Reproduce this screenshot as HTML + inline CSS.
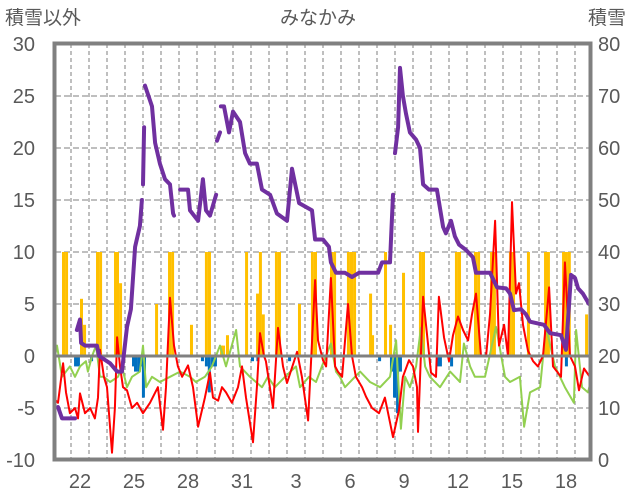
<!DOCTYPE html>
<html><head><meta charset="utf-8"><style>
html,body{margin:0;padding:0;background:#fff;}
svg{display:block;font-family:"Liberation Sans","Noto Sans CJK JP",sans-serif;}
</style></head><body>
<svg id="chart" width="636" height="501" viewBox="0 0 636 501">
<text x="5" y="24" font-size="19" fill="#595959">積雪以外</text>
<text x="318" y="24" font-size="19" fill="#595959" text-anchor="middle">みなかみ</text>
<text x="588" y="24" font-size="19" fill="#595959">積雪</text>
<defs><clipPath id="pc"><rect x="55" y="44" width="535" height="415"/></clipPath></defs>
<g id="grid"></g>
<g id="bars" clip-path="url(#pc)"></g>
<g id="lines" clip-path="url(#pc)"></g>
<g id="frame"></g>
<g id="ticks"></g>
</svg>
<script>
const xLabels=["22","25","28","31","3","6","9","12","15","18"];
const xLabelDays=[1.5,4.5,7.5,10.5,13.5,16.5,19.5,22.5,25.5,28.5];
const leftTicks=[-10,-5,0,5,10,15,20,25,30];
const rightTicks=[0,10,20,30,40,50,60,70,80];
const redTime=[0,0.28,0.56,0.72,0.94,1.22,1.39,1.5,1.78,2.06,2.33,2.5,2.61,2.83,3.0,3.28,3.44,3.56,3.72,3.89,4.11,4.39,4.67,5.0,5.39,5.83,6.11,6.28,6.5,6.72,6.94,7.17,7.5,7.78,8.06,8.44,8.72,8.89,9.17,9.39,9.61,9.94,10.28,10.5,10.72,11.11,11.33,11.5,11.72,11.83,12.22,12.5,12.78,13.0,13.56,13.83,14.17,14.56,14.72,15.0,15.17,15.44,15.67,15.83,16.06,16.39,16.61,16.83,17.17,17.39,17.72,18.11,18.44,18.89,19.22,19.44,19.78,20.0,20.22,20.28,20.56,20.72,21.0,21.28,21.44,21.72,22.0,22.22,22.5,22.78,23.06,23.28,23.5,23.78,24.06,24.28,24.56,24.78,25.06,25.28,25.5,25.72,25.89,26.11,26.39,26.67,26.94,27.22,27.56,27.78,28.22,28.44,28.72,29.0,29.22,29.5,29.94];
const redValue=[-4,-4.5,-0.7,-3.5,-5.5,-5,-6,-3.6,-5.5,-5,-6,-4,0.6,-2,-3,-9.3,-5,1.8,-1,-3,-3.3,-5,-4.5,-5.5,-4.5,-3,-7.1,-3,5.6,1,-1,-2,-0.9,-3,-6.8,-4,-1.6,-4,-4.3,-3,-3.5,-4.5,-3,-1,-4,-8.3,-3,2.2,0,-0.5,-5,2.7,-1,-2.6,0.4,-2,-6.2,7.3,1.5,-0.4,-1,7.5,-1,-1.5,-2,5,0,-2,-3,-3.9,-5,-5.5,-4,-7.8,-5.2,-2,-0.4,-1,-3,-7.3,5.7,3,-1.6,-2,5.7,1.8,-0.5,2,3.8,2.5,1.5,4,6,0,0,4,13,1,3,0,14.8,6,7,3,0.5,-0.5,-1,0,6.6,-1,-2,9,0,-1,-3.3,-1.2,-2.3];
const greenTime=[0,0.22,0.5,0.94,1.22,1.5,1.83,1.94,2.17,2.39,2.61,2.83,3.17,3.61,3.83,4.11,4.39,4.83,5.0,5.17,5.5,5.94,6.5,7.06,7.61,7.94,8.44,8.83,9.28,9.61,10.17,10.39,10.94,11.61,11.94,12.33,12.89,13.5,13.72,14.22,14.61,14.94,15.44,15.72,15.94,16.22,16.78,17.06,17.61,18.17,18.72,19.06,19.33,19.56,19.83,20.17,20.44,20.67,20.94,21.5,22.06,22.61,22.83,23.17,23.44,24.0,24.61,25.11,25.39,25.94,26.17,26.5,27.06,27.39,27.89,28.44,28.94,29.06,29.39,29.72,29.94];
const greenValue=[-1,1,-2,-1,-2,-1,-0.5,-1.5,0,1,-2,-2,-2.5,-2,-1,-3,-2,-1.5,1,-3,-2,-2.5,-2,-1.5,-2,-2.5,-2,-1,1,-1,2.5,-1,-2,-3,-2,-3,-2,-1,-3,-2,-2.5,-1,1.2,-1.5,-2,-3,-2,-1.5,-2.5,-3,-2,1.5,-7,-2,-3,-1,2.7,-1,-2,-3,-1.5,-2.5,1.2,-1,-2,-2,2.8,-2,-2.5,-2,-6.8,-3.5,-3,2.8,-1,-3,-4.5,2.5,-3,-3.5,-2];
const snowTime=[0.28,0.5,1.22,null,1.33,1.5,1.56,1.78,2.44,2.56,3.17,3.56,3.83,4.11,4.33,4.56,4.83,4.94,null,5.0,5.06,null,5.11,5.5,5.67,5.94,6.22,6.5,6.67,6.72,null,7.06,7.5,7.61,8.06,8.33,8.5,8.72,9.06,null,9.11,9.28,null,9.33,9.5,9.78,10.0,10.39,10.67,10.94,11.33,11.61,12.06,12.44,13.0,13.28,13.67,14.39,14.56,15.0,15.33,15.44,15.72,16.22,16.61,17.0,17.56,18.06,18.28,18.72,18.78,18.89,null,19.0,19.17,19.28,19.44,19.61,19.83,20.17,20.39,20.56,20.89,21.33,21.67,21.83,22.11,22.33,22.56,22.94,23.33,23.5,24.28,24.67,25.17,25.39,25.61,26.0,26.28,26.5,27.28,27.61,28.22,28.5,28.67,28.78,29.0,29.17,29.44,29.78,29.94];
const snowValue=[10.2,8,8,null,25,27,22.5,22,22,20,18.6,17,17,25.6,29,41,45,50,null,53,64,null,72,68,61,57,54,53,47.4,47,null,52,52,48,46,54,48,47,51,null,61.4,63,null,68,68,63,67,65,59,57,57,52,51,47.4,46,56,49.4,48,42.4,42.4,41,38,36,36,35.2,36,36,36,38,38,42.4,51,null,59,64,75.4,70,66.6,63,61.6,60,53,52,52,44.8,43.6,46,43,41.4,40.4,39,36,36,33.2,33,32,28.8,29,28,26.6,26,24.4,24,21.2,30,35.6,35,33,32,30,30];
const precipTime=[0.5,0.67,1.5,1.67,2.39,2.56,3.39,3.5,3.67,5.67,6.39,6.56,7.61,8.44,8.61,9.28,9.39,9.61,10.67,11.28,11.44,11.6,12.33,12.5,13.61,14.33,14.5,15.39,15.56,16.33,16.5,16.67,17.56,17.67,18.39,18.67,19.39,20.33,20.5,22.33,22.5,23.39,23.56,24.28,24.44,25.33,25.5,26.33,27.28,27.44,28.28,28.44,28.6,29.56];
const precipValue=[10,10,5.5,3,10,10,10,10,7,5,10,10,3,10,10,1,1,2,10,6,10,4,10,10,5,10,10,10,10,10,10,10,6,2,10,3,8,10,10,10,10,10,10,10,10,10,10,10,10,10,10,10,10,4];
const negTime=[1.17,1.33,2.06,4.39,4.5,4.67,4.83,4.94,5.0,8.22,8.44,8.6,8.78,8.94,11.0,11.3,13.06,18.06,18.72,18.89,19.06,19.22,21.28,21.44,22.06,28.44];
const negValue=[-1,-1,-0.5,-1,-1.5,-1.5,-1,-4,-1.5,-0.5,-1,-3.5,-1,-1,-0.5,-0.5,-0.5,-0.5,-1.5,-4,-5.5,-1.5,-1,-1,-1,-1];

const NS="http://www.w3.org/2000/svg";
const X0=53,DAY=18,Y0=460,PL=10.4,PR=5.2;
function xS(t){return X0+t*DAY;}
function yL(v){return Y0-(v+10)*PL;}
function yR(c){return Y0-c*PR;}
function mk(tag,attrs,parent){const e=document.createElementNS(NS,tag);for(const k in attrs)e.setAttribute(k,attrs[k]);parent.appendChild(e);return e;}
const grid=document.getElementById('grid'),bars=document.getElementById('bars'),lines=document.getElementById('lines'),frame=document.getElementById('frame'),ticks=document.getElementById('ticks');
for(let k=1;k<30;k++){
 const l=mk('line',{x1:xS(k),x2:xS(k),y1:44,y2:458,stroke:'#7f7f7f','stroke-width':1,'stroke-dasharray':'4,3'},grid);
 
 
}
leftTicks.forEach(v=>{
 if(v>-10&&v<30&&v!==0){const l=mk('line',{x1:55,x2:590,y1:yL(v),y2:yL(v),stroke:'#7f7f7f','stroke-width':1,'stroke-dasharray':'6,3'},grid);
 
 }
 const t=mk('text',{x:35,y:yL(v)+7,'font-size':20,fill:'#595959','text-anchor':'end'},ticks);t.textContent=String(v);
 
 
});
rightTicks.forEach(c=>{
 const t=mk('text',{x:598,y:yR(c)+7,'font-size':20,fill:'#595959'},ticks);t.textContent=String(c);
 
 
});
xLabels.forEach((s,i)=>{
 const t=mk('text',{x:xS(xLabelDays[i]),y:488,'font-size':20,fill:'#595959','text-anchor':'middle'},ticks);t.textContent=s;
 
 
});
precipTime.forEach((t,i)=>{
 const v=precipValue[i];const r=mk('rect',{x:xS(t),y:yL(v),width:3,height:yL(0)-yL(v),fill:'#ffc000'},bars);
 
 
});
negTime.forEach((t,i)=>{
 const v=negValue[i];const r=mk('rect',{x:xS(t),y:yL(0),width:3,height:yL(v)-yL(0),fill:'#0070c0'},bars);
 
 
});
function path(ts,vs,yf){let d='',pen=false;for(let i=0;i<ts.length;i++){if(ts[i]===null||vs[i]===null){pen=false;continue;}d+=(pen?'L':'M')+xS(ts[i]).toFixed(1)+','+yf(vs[i]).toFixed(1);pen=true;}return d;}
const g=mk('path',{d:path(greenTime,greenValue,yL),fill:'none',stroke:'#92d050','stroke-width':2,'stroke-linejoin':'round'},lines);


const rd=mk('path',{d:path(redTime,redValue,yL),fill:'none',stroke:'#ff0000','stroke-width':2,'stroke-linejoin':'round'},lines);


const zl=mk('line',{x1:55,x2:590,y1:yL(0),y2:yL(0),stroke:'#808080','stroke-width':3},lines);


const sp=mk('path',{d:path(snowTime,snowValue,yR),fill:'none',stroke:'#7030a0','stroke-width':4,'stroke-linejoin':'round','stroke-linecap':'round'},lines);


const fr=mk('rect',{x:54.5,y:43.5,width:536,height:416,fill:'none',stroke:'#808080','stroke-width':4},frame);


</script>
</body></html>
